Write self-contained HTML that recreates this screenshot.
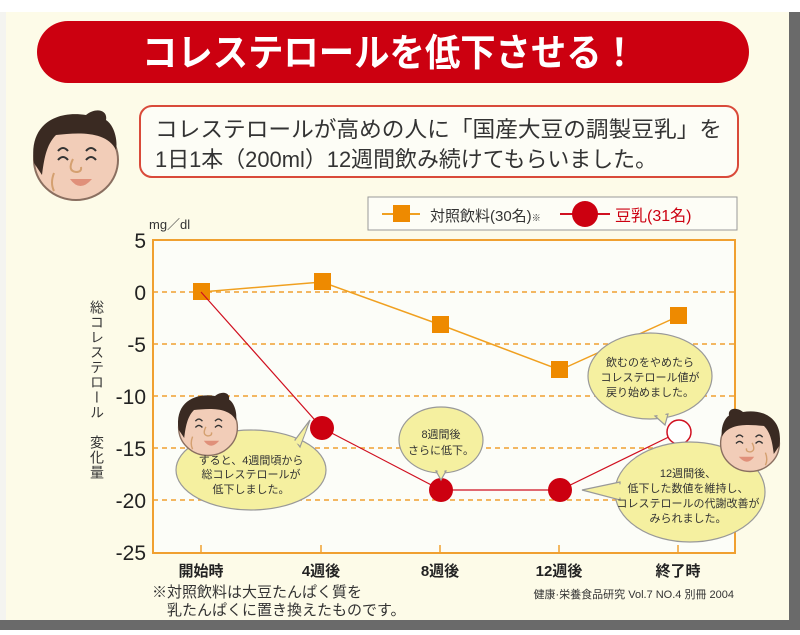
<!DOCTYPE html>
<html><head><meta charset="utf-8"><style>
body{margin:0;width:800px;height:630px;overflow:hidden;background:#fff}
svg text{font-family:"Liberation Sans","Noto Sans CJK JP",sans-serif}
</style></head><body>
<svg width="800" height="630" viewBox="0 0 800 630" xmlns="http://www.w3.org/2000/svg">
<defs>
<g id="face">
<ellipse cx="0" cy="5" rx="42" ry="40" fill="#f2cdb8" stroke="#8a6f60" stroke-width="2"/>
<path d="M-42,8 C-48,-30 -20,-45 10,-40 C20,-48 32,-45 30,-35 C38,-30 42,-15 40,-5 C30,-25 0,-22 -20,-20 C-30,-10 -32,5 -34,20 Z" fill="#3a2a22"/>
<path d="M-18,-4 q5,-6 10,0 M10,-4 q5,-6 10,0 M-18,5 q5,-6 10,0 M10,5 q5,-6 10,0" stroke="#333" stroke-width="2" fill="none"/>
<path d="M-3,4 q-6,12 3,13 q6,0 5,-5" stroke="#d4a070" stroke-width="2" fill="none"/>
<path d="M-6,24 q10,14 22,0 z" fill="#e0907a"/>
<path d="M-22,18 q-4,10 0,18" stroke="#d4a070" stroke-width="2" fill="none"/>
</g>
</defs>
<rect x="0" y="0" width="800" height="630" fill="#fdfbe8"/>
<rect x="0" y="0" width="800" height="12" fill="#fff"/>
<rect x="789" y="12" width="11" height="618" fill="#6a6a6a"/>
<rect x="0" y="620" width="800" height="10" fill="#6a6a6a"/>
<rect x="0" y="12" width="6" height="608" fill="#f4f4f0"/>
<rect x="37" y="21" width="712" height="62" rx="31" fill="#cc0010"/>
<text x="142" y="66" font-size="38" font-weight="bold" fill="#fff" textLength="495" lengthAdjust="spacingAndGlyphs">コレステロールを低下させる！</text>
<use href="#face" transform="translate(76,155)"/>
<rect x="140" y="106" width="598" height="71" rx="12" fill="#fdfdf6" stroke="#d94a3a" stroke-width="2"/>
<text x="155" y="137" font-size="22" fill="#333" textLength="567" lengthAdjust="spacingAndGlyphs">コレステロールが高めの人に「国産大豆の調製豆乳」を</text>
<text x="155" y="167" font-size="22" fill="#333" textLength="502" lengthAdjust="spacingAndGlyphs">1日1本（200ml）12週間飲み続けてもらいました。</text>
<rect x="368" y="197" width="369" height="33" fill="#fdfdf6" stroke="#999" stroke-width="1"/>
<line x1="382" y1="214" x2="420" y2="214" stroke="#f0a020" stroke-width="2"/>
<rect x="393" y="205" width="17" height="17" fill="#ee8a00"/>
<text x="430" y="221" font-size="15" fill="#333">対照飲料(30名)<tspan font-size="9">※</tspan></text>
<line x1="560" y1="214" x2="610" y2="214" stroke="#d01020" stroke-width="2"/>
<circle cx="585" cy="214" r="13" fill="#cc0010"/>
<text x="615" y="221" font-size="16" fill="#cc0010">豆乳(31名)</text>
<text x="149" y="229" font-size="13" fill="#333">mg／dl</text>
<rect x="153" y="240" width="582" height="313" fill="#fcfdf8" stroke="#f0a030" stroke-width="2"/>
<g stroke="#f0a030" stroke-width="1.5" stroke-dasharray="5,4">
<line x1="153" y1="292" x2="735" y2="292"/><line x1="153" y1="344" x2="735" y2="344"/>
<line x1="153" y1="396" x2="735" y2="396"/><line x1="153" y1="448" x2="735" y2="448"/>
<line x1="153" y1="500" x2="735" y2="500"/>
</g>
<g stroke="#f0a030" stroke-width="1.5">
<line x1="201" y1="545" x2="201" y2="553"/><line x1="321" y1="545" x2="321" y2="553"/><line x1="440" y1="545" x2="440" y2="553"/><line x1="559" y1="545" x2="559" y2="553"/><line x1="678" y1="545" x2="678" y2="553"/>
</g>
<g font-size="21" fill="#222" text-anchor="end">
<text x="146" y="248">5</text><text x="146" y="300">0</text><text x="146" y="352">-5</text><text x="146" y="404">-10</text><text x="146" y="456">-15</text><text x="146" y="508">-20</text><text x="146" y="560">-25</text>
</g>
<text font-size="14" fill="#333" writing-mode="tb" x="97" y="300" letter-spacing="1">総コレステロール　変化量</text>
<polyline points="201,292 322,282 441,325 560,370 679,316" fill="none" stroke="#f0a020" stroke-width="1.5"/>
<g fill="#ee8a00">
<rect x="193" y="283" width="17" height="17"/><rect x="314" y="273" width="17" height="17"/><rect x="432" y="316" width="17" height="17"/><rect x="551" y="361" width="17" height="17"/><rect x="670" y="307" width="17" height="17"/>
</g>
<polyline points="201,292 322,428 441,490 560,490 679,432" fill="none" stroke="#d01020" stroke-width="1.2"/>
<g fill="#cc0010">
<ellipse cx="322" cy="428" rx="12" ry="12"/><ellipse cx="441" cy="490" rx="12" ry="12"/><ellipse cx="560" cy="490" rx="12" ry="12"/>
</g>
<ellipse cx="679" cy="432" rx="12" ry="12" fill="#fff" stroke="#d01020" stroke-width="1.5"/>
<g fill="#f5f0a0" stroke="#999" stroke-width="1.2">
<ellipse cx="251" cy="470" rx="75" ry="40"/>
<path d="M295,440 L310,420 L300,447Z"/>
<ellipse cx="441" cy="440" rx="42" ry="33"/>
<path d="M436,471 L441,480 L446,471Z"/>
<ellipse cx="650" cy="376" rx="62" ry="43"/>
<path d="M655,416 L665,425 L668,414Z"/>
<ellipse cx="690" cy="492" rx="75" ry="50"/>
<path d="M620,482 L582,490 L620,500Z"/>
</g>
<g stroke="none" fill="#f5f0a0">
<path d="M294,442 L300,445 L306,430Z"/>
<path d="M437,470 L445,470 L441,476Z"/>
<path d="M656,414 L666,413 L663,421Z"/>
<path d="M622,484 L588,490 L622,498Z"/>
</g>
<use href="#face" transform="translate(208,424) scale(0.7)"/>
<use href="#face" transform="translate(750,440) scale(0.7) scale(-1,1)"/>
<g font-size="11" fill="#333" text-anchor="middle">
<text x="251" y="464">すると、4週間頃から</text><text x="251" y="478">総コレステロールが</text><text x="251" y="493">低下しました。</text>
<text x="441" y="438">8週間後</text><text x="441" y="454">さらに低下。</text>
<text x="650" y="366">飲むのをやめたら</text><text x="650" y="381">コレステロール値が</text><text x="650" y="396">戻り始めました。</text>
<text x="688" y="477">12週間後、</text><text x="688" y="492">低下した数値を維持し、</text><text x="688" y="507">コレステロールの代謝改善が</text><text x="688" y="522">みられました。</text>
</g>
<g font-size="15" font-weight="bold" fill="#222" text-anchor="middle">
<text x="201" y="576">開始時</text><text x="321" y="576">4週後</text><text x="440" y="576">8週後</text><text x="559" y="576">12週後</text><text x="678" y="576">終了時</text>
</g>
<text x="152" y="597" font-size="15" fill="#333">※対照飲料は大豆たんぱく質を</text>
<text x="167" y="615" font-size="15" fill="#333">乳たんぱくに置き換えたものです。</text>
<text x="734" y="598" font-size="11" fill="#333" text-anchor="end">健康·栄養食品研究 Vol.7 NO.4 別冊 2004</text>
</svg>
</body></html>
